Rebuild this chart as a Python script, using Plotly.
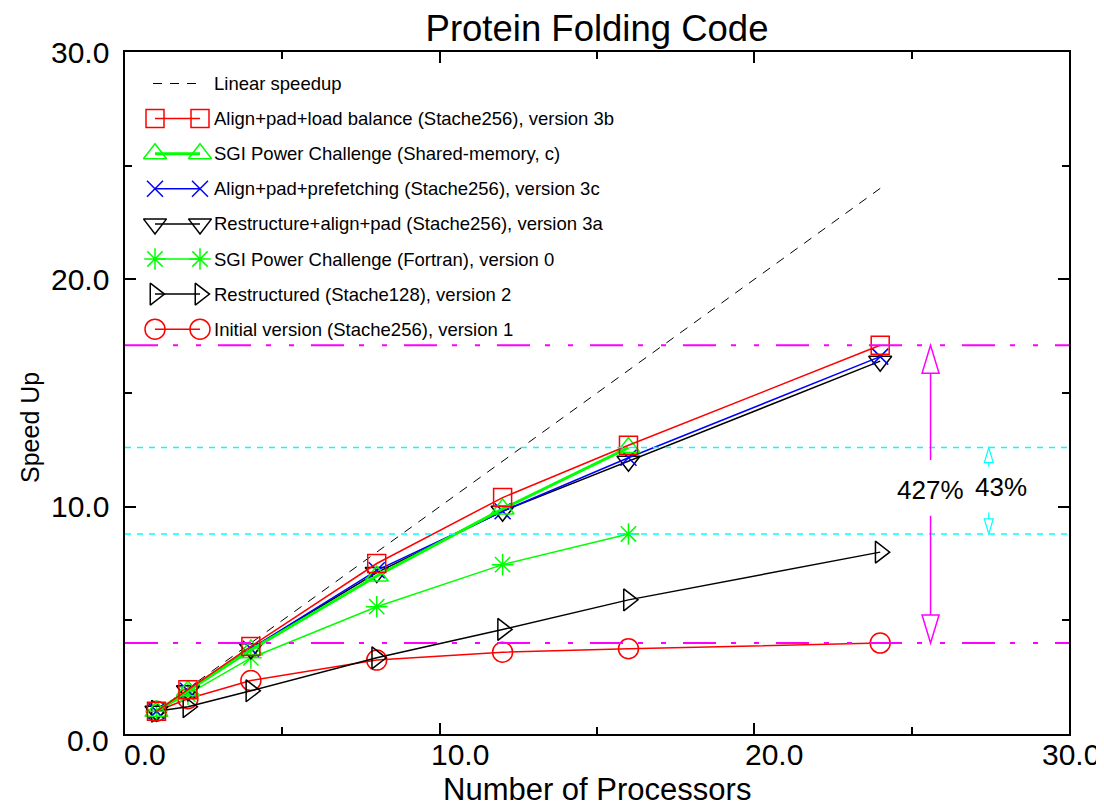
import plotly.graph_objects as go

# ---------------- data ----------------
PROCS = [1, 2, 4, 8, 12, 16, 24]
PROCS_SGI = [1, 2, 4, 8, 12, 16]
LINEAR_X = [1, 24]
LINEAR_Y = [1, 24]

V3B = [1.0, 1.95, 3.85, 7.5, 10.4, 12.7, 17.1]       # Align+pad+load balance
SGI_SHM = [1.0, 1.9, 3.7, 6.95, 9.9, 12.6]          # SGI shared memory
V3C = [1.0, 1.9, 3.75, 7.2, 9.8, 12.15, 16.6]       # Align+pad+prefetching
V3A = [1.0, 1.9, 3.75, 7.1, 9.8, 12.0, 16.4]        # Restructure+align+pad
FORTRAN = [1.0, 1.75, 3.35, 5.6, 7.45, 8.8]         # SGI Fortran
V2 = [1.0, 1.2, 1.9, 3.35, 4.6, 5.9, 8.0]           # Restructured
V1 = [1.0, 1.55, 2.35, 3.25, 3.6, 3.75, 4.0]        # Initial version

XTICKS = [0, 10, 20, 30]
XTICK_LABELS = ["0.0", "10.0", "20.0", "30.0"]
YTICKS = [0, 10, 20, 30]
YTICK_LABELS = ["0.0", "10.0", "20.0", "30.0"]
MINOR_TICKS = [5, 15, 25]

LABELS = [
    "Linear speedup",
    "Align+pad+load balance (Stache256), version 3b",
    "SGI Power Challenge (Shared-memory, c)",
    "Align+pad+prefetching (Stache256), version 3c",
    "Restructure+align+pad (Stache256), version 3a",
    "SGI Power Challenge (Fortran), version 0",
    "Restructured (Stache128), version 2",
    "Initial version (Stache256), version 1",
]

# reference levels derived from the data
MAG_HI = V3B[-1]
MAG_LO = V1[-1]
CYAN_HI = SGI_SHM[-1]
CYAN_LO = FORTRAN[-1]
ARROW_X = 25.6
ARROW_GAP = [9.6, 12.05]
CYAN_X = 27.45
CYAN_GAP = [9.74, 11.76]
PCT_LABELS = ["427%", "43%"]
PCT_X = [25.6, 27.85]
PCT_Y = [10.72, 10.88]

# ---------------- layout geometry ----------------
# the page body has an 8px default margin; the figure is sized so that the
# plotting area lands at the same screen position as in the reference
BODY = 8
W, H = 1104 - BODY, 808 - BODY
ML, MT = 125 - BODY, 52 - BODY
PW, PH = 944, 682
MR, MB = W - ML - PW, H - MT - PH
PX_PER_Y = PH / 30.0
XLABEL_SHIFT = [20, 20, 20, 2]   # the x tick labels sit right of their ticks
YLABEL_SHIFT = [-6, 0, 0, 0]     # the lowest y label sits a little low


def paper_x(screen_x):
    return (screen_x - BODY - ML) / PW


def paper_y(screen_y):
    return (MT + PH - (screen_y - BODY)) / PH


FONT = "Liberation Sans, Arial, sans-serif"
RED, GREEN, BLUE, BLACK = "#FF0000", "#00FF00", "#0000FF", "#000000"
MAGENTA, CYAN = "#FF00FF", "#00FFFF"

series = [
    # label idx, x, y, color, symbol, line width, marker size
    (1, PROCS, V3B, RED, "square-open", 1.5, 18),
    (2, PROCS_SGI, SGI_SHM, GREEN, "triangle-up-open", 3, 20),
    (3, PROCS, V3C, BLUE, "x-thin-open", 1.5, 16),
    (4, PROCS, V3A, BLACK, "triangle-down-open", 1.5, 20),
    (5, PROCS_SGI, FORTRAN, GREEN, "asterisk-open", 1.5, 18),
    (6, PROCS, V2, BLACK, "triangle-right-open", 1.5, 19),
    (7, PROCS, V1, RED, "circle-open", 1.5, 20),
]

fig = go.Figure()

fig.add_trace(go.Scatter(x=LINEAR_X, y=LINEAR_Y, mode="lines",
                         line=dict(color=BLACK, width=1, dash="9px,8px"),
                         showlegend=False, hoverinfo="skip"))

for idx, xs, ys, col, sym, lw, ms in reversed(series):
    fig.add_trace(go.Scatter(
        x=xs, y=ys, mode="lines+markers", name=LABELS[idx],
        line=dict(color=col, width=lw),
        marker=dict(symbol=sym, size=ms, color=col, line=dict(color=col, width=1.5)),
        showlegend=False))

# ---------------- custom legend (two markers per sample) ----------------
LEG_X0, LEG_X1, LEG_TX = 30, 75, 87
LEG_Y0, LEG_DY = 734 - 83.5, 35.1
fig.add_trace(go.Scatter(x=[LEG_X0 - 2, LEG_X1], y=[LEG_Y0, LEG_Y0], mode="lines",
                         xaxis="x2", yaxis="y2",
                         line=dict(color=BLACK, width=1, dash="9px,8px"),
                         showlegend=False, hoverinfo="skip"))
for idx, xs, ys, col, sym, lw, ms in series:
    yy = LEG_Y0 - LEG_DY * idx
    fig.add_trace(go.Scatter(
        x=[LEG_X0, LEG_X1], y=[yy, yy], mode="lines+markers",
        xaxis="x2", yaxis="y2",
        line=dict(color=col, width=lw),
        marker=dict(symbol=sym, size=ms, color=col, line=dict(color=col, width=1.5)),
        showlegend=False, hoverinfo="skip"))

annotations = []
for i, lab in enumerate(LABELS):
    annotations.append(dict(
        x=LEG_TX, y=LEG_Y0 - LEG_DY * i, xref="x2", yref="y2",
        text=lab, showarrow=False, xanchor="left", yanchor="middle",
        font=dict(family=FONT, size=18.5, color=BLACK)))

for t, x, y in zip(PCT_LABELS, PCT_X, PCT_Y):
    annotations.append(dict(x=x, y=y, xref="x", yref="y", text=t, showarrow=False,
                            xanchor="center", yanchor="middle",
                            font=dict(family=FONT, size=26, color=BLACK)))

# tick labels (placed as in the reference)
for v, t, sh in zip(XTICKS, XTICK_LABELS, XLABEL_SHIFT):
    annotations.append(dict(x=v, y=paper_y(754), xref="x", yref="paper", text=t,
                            showarrow=False, xanchor="center", yanchor="middle",
                            xshift=sh, font=dict(family=FONT, size=30, color=BLACK)))
for v, t, sh in zip(YTICKS, YTICK_LABELS, YLABEL_SHIFT):
    annotations.append(dict(x=paper_x(111), y=v, xref="paper", yref="y", text=t,
                            showarrow=False, xanchor="right", yanchor="middle",
                            yshift=sh, font=dict(family=FONT, size=30, color=BLACK)))

# axis titles placed like the reference
annotations.append(dict(x=paper_x(30), y=paper_y(428), xref="paper", yref="paper",
                        text="Speed Up", textangle=-90, showarrow=False,
                        xanchor="center", yanchor="middle",
                        font=dict(family=FONT, size=25, color=BLACK)))
annotations.append(dict(x=paper_x(597), y=paper_y(789), xref="paper", yref="paper",
                        text="Number of Processors", showarrow=False,
                        xanchor="center", yanchor="middle",
                        font=dict(family=FONT, size=31, color=BLACK)))

# ---------------- reference lines and arrows ----------------
shapes = []
MAG_DASH = "33px,15px,5px,18px,5px,17px"
for yv in (MAG_HI, MAG_LO):
    shapes.append(dict(type="line", xref="paper", x0=0, x1=1, yref="y", y0=yv, y1=yv,
                       line=dict(color=MAGENTA, width=2, dash=MAG_DASH)))
for yv in (CYAN_HI, CYAN_LO):
    shapes.append(dict(type="line", xref="paper", x0=0, x1=1, yref="y", y0=yv, y1=yv,
                       line=dict(color=CYAN, width=1.5, dash="6px,6px")))


def arrow(xa, ytip, ygap, head_len, head_w, color, up, lw):
    s = 1 if up else -1
    # hollow head
    shapes.append(dict(type="path", xref="x", yref="y", xsizemode="pixel", ysizemode="pixel",
                       xanchor=xa, yanchor=ytip,
                       path=f"M 0,0 L {-head_w/2},{-s*head_len} L {head_w/2},{-s*head_len} Z",
                       line=dict(color=color, width=lw), fillcolor="rgba(0,0,0,0)"))
    # stem
    shapes.append(dict(type="line", xref="x", yref="y", x0=xa, x1=xa,
                       y0=ytip - s * head_len / PX_PER_Y, y1=ygap,
                       line=dict(color=color, width=lw)))


arrow(ARROW_X, MAG_HI, ARROW_GAP[1], 28, 17, MAGENTA, True, 1.5)
arrow(ARROW_X, MAG_LO, ARROW_GAP[0], 28, 17, MAGENTA, False, 1.5)
arrow(CYAN_X, CYAN_HI, CYAN_GAP[1], 15, 9, CYAN, True, 1.2)
arrow(CYAN_X, CYAN_LO, CYAN_GAP[0], 15, 9, CYAN, False, 1.2)

axis_common = dict(
    automargin=False,
    showgrid=False, zeroline=False, showline=True, linecolor=BLACK, linewidth=2,
    mirror="allticks", ticks="inside", ticklen=11, tickwidth=1.5, tickcolor=BLACK,
    showticklabels=False,
    minor=dict(tickvals=MINOR_TICKS, ticks="inside", ticklen=7, tickwidth=1.5, tickcolor=BLACK),
)

fig.update_layout(
    width=W, height=H,
    margin=dict(l=ML, r=MR, t=MT, b=MB, autoexpand=False),
    paper_bgcolor="white", plot_bgcolor="white",
    font=dict(family=FONT, color=BLACK),
    title=dict(text="Protein Folding Code", x=0.5, xref="paper", xanchor="center",
               y=1 - (28 - BODY) / H, yref="container", yanchor="middle",
               font=dict(family=FONT, size=36.5, color=BLACK)),
    xaxis=dict(range=[0, 30], tickmode="array", tickvals=XTICKS, **axis_common),
    yaxis=dict(range=[0, 30], tickmode="array", tickvals=YTICKS, **axis_common),
    xaxis2=dict(overlaying="x", range=[0, PW], visible=False, fixedrange=True),
    yaxis2=dict(overlaying="y", range=[0, PH], visible=False, fixedrange=True),
    shapes=shapes,
    annotations=annotations,
)

fig.write_html("out.html")
